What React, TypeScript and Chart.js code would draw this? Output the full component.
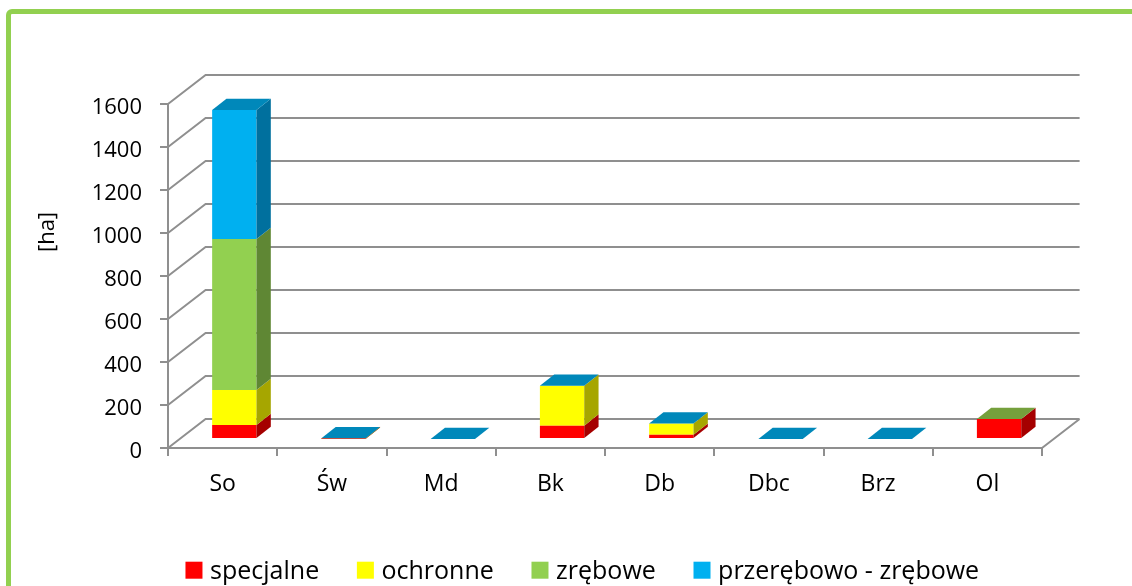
import React, { useEffect, useRef } from 'react';
import { Chart, registerables } from 'chart.js';

Chart.register(...registerables);

// ---- data ----
const categories = ['So', 'Św', 'Md', 'Bk', 'Db', 'Dbc', 'Brz', 'Ol'];
const seriesNames = ['specjalne', 'ochronne', 'zrębowe', 'przerębowo - zrębowe'];
const specjalne = [65, 1, 0, 62, 20, 0, 0, 93];
const ochronne = [163, 2, 0, 186, 52, 0, 0, 0];
const zrebowe = [702, 0, 0, 0, 0, 0, 0, 0];
const przerebowoZrebowe: (number | null)[] = [600, 0, 0, 0, 0, 0, 0, null];
const yTicks = [0, 200, 400, 600, 800, 1000, 1200, 1400, 1600];
const yAxisTitle = '[ha]';

// ---- styles ----
const frontColors = ['#FF0000', '#FFFF00', '#92D050', '#00B0F0'];
const sideColors = ['#A50000', '#A6A600', '#5F8734', '#00709E'];
const topColors = ['#C80000', '#C8C800', '#75A03C', '#0088BA'];
const GRID = '#8F8F8F';
const FONT = '"Open Sans", "Noto Sans", sans-serif';

// 3D geometry (pixels)
const WALL_DX = 37.6;
const WALL_DY = -29;
const BAR_OFF_DX = 11.7;
const BAR_OFF_DY = -9;
const BAR_DX = 14.3;
const BAR_DY = -11.3;

const pseudo3d = {
  id: 'pseudo3d',
  beforeDatasetsDraw(chart: any) {
    const { ctx, chartArea, scales } = chart;
    const y = scales.y;
    ctx.save();
    ctx.strokeStyle = GRID;
    ctx.lineWidth = 2;
    ctx.beginPath();
    y.ticks.forEach((t: any) => {
      const py = y.getPixelForValue(t.value);
      ctx.moveTo(chartArea.left, py);
      ctx.lineTo(chartArea.left + WALL_DX, py + WALL_DY);
      ctx.lineTo(chartArea.right + WALL_DX, py + WALL_DY);
    });
    ctx.moveTo(chartArea.right, chartArea.bottom);
    ctx.lineTo(chartArea.right + WALL_DX, chartArea.bottom + WALL_DY);
    ctx.stroke();
    ctx.restore();

    ctx.save();
    ctx.translate(BAR_OFF_DX, BAR_OFF_DY);
  },
  afterDatasetsDraw(chart: any) {
    const { ctx } = chart;
    const datasets = chart.data.datasets;
    const n = chart.data.labels.length;
    for (let i = 0; i < n; i++) {
      let topIdx = -1;
      for (let d = 0; d < datasets.length; d++) {
        const v = datasets[d].data[i];
        if (v === null || v === undefined) continue;
        topIdx = d;
        const el = chart.getDatasetMeta(d).data[i];
        const p = el.getProps(['x', 'y', 'base', 'width'], true);
        const r = p.x + p.width / 2;
        if (Math.abs(p.base - p.y) > 0.01) {
          ctx.fillStyle = sideColors[d];
          ctx.beginPath();
          ctx.moveTo(r, p.y);
          ctx.lineTo(r + BAR_DX, p.y + BAR_DY);
          ctx.lineTo(r + BAR_DX, p.base + BAR_DY);
          ctx.lineTo(r, p.base);
          ctx.closePath();
          ctx.fill();
        }
      }
      if (topIdx >= 0) {
        const el = chart.getDatasetMeta(topIdx).data[i];
        const p = el.getProps(['x', 'y', 'width'], true);
        const l = p.x - p.width / 2;
        const r = p.x + p.width / 2;
        ctx.fillStyle = topColors[topIdx];
        ctx.beginPath();
        ctx.moveTo(l, p.y);
        ctx.lineTo(r, p.y);
        ctx.lineTo(r + BAR_DX, p.y + BAR_DY);
        ctx.lineTo(l + BAR_DX, p.y + BAR_DY);
        ctx.closePath();
        ctx.fill();
      }
    }
    ctx.restore();
  },
  afterDraw(chart: any) {
    const { ctx } = chart;
    // axis title
    ctx.save();
    ctx.fillStyle = '#000';
    ctx.font = `22px ${FONT}`;
    ctx.translate(47.5, 232);
    ctx.rotate(-Math.PI / 2);
    ctx.textAlign = 'center';
    ctx.textBaseline = 'middle';
    ctx.fillText(yAxisTitle, 0, 0);
    ctx.restore();

    // legend
    ctx.save();
    ctx.font = `25px ${FONT}`;
    ctx.textBaseline = 'alphabetic';
    ctx.textAlign = 'left';
    const box = 17;
    const gapBoxText = 7.6;
    const gapItems = 37.7;
    const names: string[] = chart.data.datasets.map((d: any) => d.label);
    const widths = names.map((s) => ctx.measureText(s).width);
    const total = widths.reduce((a, w) => a + box + gapBoxText + w, 0) + gapItems * (names.length - 1);
    let x = 582.3 - total / 2;
    const boxTop = 561.7;
    const baseline = 578.7;
    names.forEach((s, k) => {
      ctx.fillStyle = chart.data.datasets[k].backgroundColor;
      ctx.fillRect(x, boxTop, box, box);
      ctx.fillStyle = '#000';
      ctx.fillText(s, x + box + gapBoxText, baseline);
      x += box + gapBoxText + widths[k] + gapItems;
    });
    ctx.restore();
  },
};

export default function App() {
  const ref = useRef<HTMLCanvasElement>(null);
  useEffect(() => {
    const seriesData = [specjalne, ochronne, zrebowe, przerebowoZrebowe];
    const chart = new Chart(ref.current as HTMLCanvasElement, {
      type: 'bar',
      data: {
        labels: categories,
        datasets: seriesNames.map((name, k) => ({
          label: name,
          data: seriesData[k],
          backgroundColor: frontColors[k],
          borderWidth: 0,
          categoryPercentage: 1,
          barPercentage: 0.406,
          clip: false as any,
        })),
      },
      options: {
        animation: false,
        responsive: false,
        devicePixelRatio: 1,
        layout: { padding: { top: 104, right: 90, left: 0, bottom: 0 } },
        plugins: {
          legend: { display: false },
          tooltip: { enabled: false },
        },
        scales: {
          x: {
            stacked: true,
            grid: {
              display: true,
              drawOnChartArea: false,
              drawTicks: true,
              tickLength: 8,
              color: GRID,
              lineWidth: 2,
              offset: true,
            },
            border: { display: true, color: GRID, width: 2 },
            ticks: {
              color: '#000',
              font: { family: FONT, size: 23 },
              padding: 15,
              maxRotation: 0,
              autoSkip: false,
            },
            afterFit: (s: any) => {
              s.height = 138;
            },
          },
          y: {
            stacked: true,
            min: yTicks[0],
            max: yTicks[yTicks.length - 1],
            afterBuildTicks: (s: any) => {
              s.ticks = yTicks.map((v) => ({ value: v }));
            },
            grid: {
              drawOnChartArea: false,
              drawTicks: true,
              tickLength: 8,
              color: GRID,
              lineWidth: 2,
            },
            border: { display: true, color: GRID, width: 2 },
            ticks: {
              color: '#000',
              font: { family: FONT, size: 22 },
              padding: 18,
              labelOffset: 4,
              callback: (v: any) => String(v),
            },
            afterFit: (s: any) => {
              s.width = 168;
            },
          },
        },
      },
      plugins: [pseudo3d],
    });
    return () => chart.destroy();
  }, []);

  return (
    <div
      style={{
        position: 'absolute',
        left: 0,
        top: 0,
        width: 1132,
        height: 586,
        overflow: 'hidden',
        background: '#fff',
      }}
    >
      <canvas ref={ref} width={1132} height={586} style={{ position: 'absolute', left: 0, top: 0 }} />
      <div
        style={{
          position: 'absolute',
          left: 6,
          top: 9,
          width: 1400,
          height: 900,
          border: '5px solid #92D050',
          borderRadius: 6,
          boxSizing: 'border-box',
          pointerEvents: 'none',
        }}
      />
    </div>
  );
}
